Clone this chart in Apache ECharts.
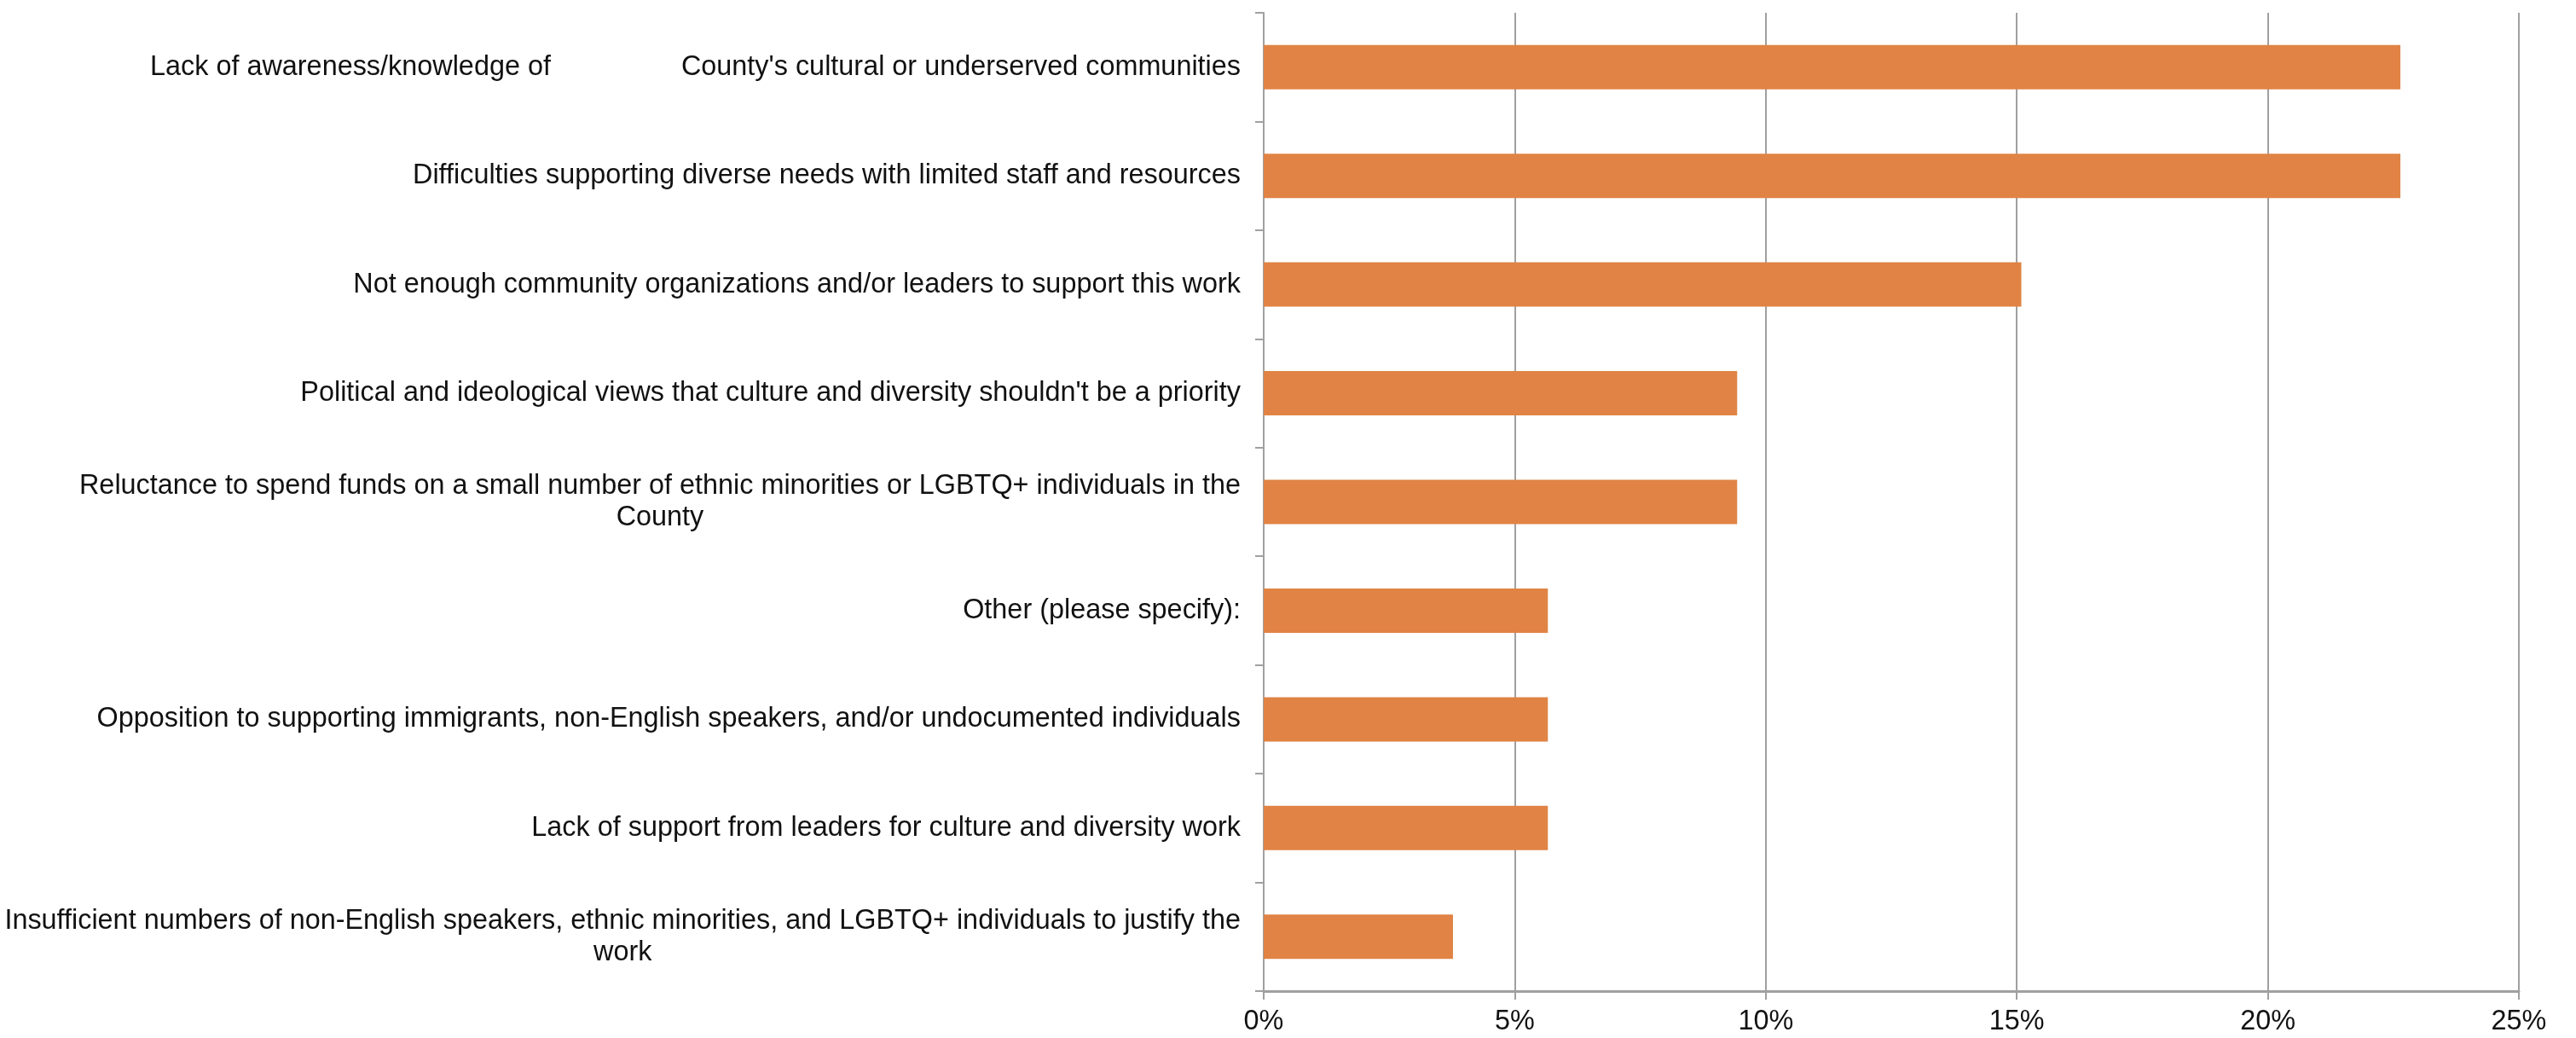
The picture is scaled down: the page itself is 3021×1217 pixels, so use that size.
<!DOCTYPE html>
<html>
<head>
<meta charset="utf-8">
<style>
  html, body { margin: 0; padding: 0; background: #ffffff; }
  #chart { width: 3021px; height: 1217px; }
</style>
<script src="https://cdn.jsdelivr.net/npm/echarts@6/dist/echarts.min.js"></script>
</head>
<body>
<div id="chart"></div>
<script>
const categories = [
  "Lack of awareness/knowledge of                 County's cultural or underserved communities",
  "Difficulties supporting diverse needs with limited staff and resources",
  "Not enough community organizations and/or leaders to support this work",
  "Political and ideological views that culture and diversity shouldn't be a priority",
  "Reluctance to spend funds on a small number of ethnic minorities or LGBTQ+ individuals in the\nCounty",
  "Other (please specify):",
  "Opposition to supporting immigrants, non-English speakers, and/or undocumented individuals",
  "Lack of support from leaders for culture and diversity work",
  "Insufficient numbers of non-English speakers, ethnic minorities, and LGBTQ+ individuals to justify the\nwork"
];
const values = [22.64, 22.64, 15.09, 9.43, 9.43, 5.66, 5.66, 5.66, 3.77];
const xTicks = { min: 0, max: 25, interval: 5 };

const FONT = "Liberation Sans";
const FS = 32.4;
const chart = echarts.init(document.getElementById('chart'), null, { renderer: 'canvas' });
chart.setOption({
  animation: false,
  backgroundColor: '#ffffff',
  grid: { left: 1482, right: 67, top: 15, bottom: 55, containLabel: false, outerBoundsMode: 'none' },
  xAxis: {
    type: 'value',
    min: xTicks.min, max: xTicks.max, interval: xTicks.interval,
    axisLine: { show: true, lineStyle: { color: '#a0a0a0', width: 3 } },
    axisTick: { show: true, length: 10, lineStyle: { color: '#a0a0a0', width: 2 } },
    splitLine: { show: true, lineStyle: { color: '#a0a0a0', width: 2 } },
    axisLabel: {
      formatter: '{value}%', color: '#111', fontFamily: FONT, fontSize: FS, margin: 20
    }
  },
  yAxis: {
    type: 'category',
    inverse: true,
    data: categories,
    axisLine: { show: true, lineStyle: { color: '#a0a0a0', width: 2 } },
    axisTick: { show: true, length: 10, lineStyle: { color: '#a0a0a0', width: 2 } },
    splitLine: { show: false },
    axisLabel: {
      color: '#111', fontFamily: FONT, fontSize: FS, margin: 27, lineHeight: 37,
      formatter: function (v) {
        return v.split('\n').map(function (l) { return '{c|' + l + '}'; }).join('\n');
      },
      rich: { c: { align: 'center', fontFamily: FONT, fontSize: FS, color: '#111', lineHeight: 37 } }
    }
  },
  series: [{
    type: 'bar',
    data: values,
    barWidth: 52,
    itemStyle: { color: '#e08344' },
    silent: true
  }]
});
</script>
</body>
</html>
